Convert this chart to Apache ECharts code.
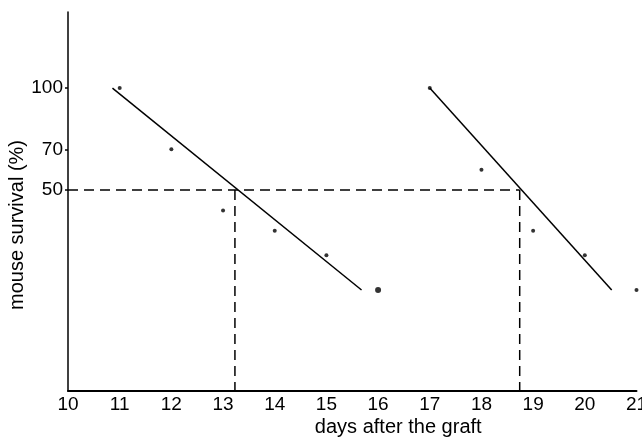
<!DOCTYPE html>
<html>
<head>
<meta charset="utf-8">
<script src="https://cdn.jsdelivr.net/npm/echarts@6/dist/echarts.min.js"></script>
<style>
html,body{margin:0;padding:0;background:#fff;}
#chart{width:642px;height:440px;}
</style>
</head>
<body>
<div id="chart"></div>
<script>
// Data
const days = [10, 11, 12, 13, 14, 15, 16, 17, 18, 19, 20, 21];
const yTickLabels = [50, 70, 100];
const groupADays = [11, 12, 13, 14, 15, 16];
const groupAValues = [100, 70, 40, 30, 18, 1];
const groupBDays = [17, 18, 19, 20, 21];
const groupBValues = [100, 60, 30, 18, 1];
const fitALine = [[10.86, 100], [15.68, 1]];
const fitBLine = [[17.0, 100], [20.52, 1]];
const ld50Days = [13.23, 18.74];
const ld50Value = 50;

const yMin = -48.5, yMax = 137.3;

const ptsA = groupADays.map((d, i) => ({value: [d, groupAValues[i]], symbolSize: d === 16 ? 6 : 4}));
const ptsB = groupBDays.map((d, i) => [d, groupBValues[i]]);

const dashStyle = {color: '#000', width: 1.5, type: [10, 6]};
const font = 'Liberation Sans, Arial, Helvetica, sans-serif';

const chart = echarts.init(document.getElementById('chart'), null, {renderer: 'canvas'});
chart.setOption({
  animation: false,
  backgroundColor: '#fff',
  grid: {left: 68, right: 5.5, top: 12, bottom: 49, containLabel: false, outerBoundsMode: 'none'},
  xAxis: {
    type: 'value', min: 10, max: 21, interval: 1,
    name: 'days after the graft', nameLocation: 'middle', nameGap: 26, nameMoveOverlap: false,
    nameTextStyle: {fontSize: 20, color: '#000', fontFamily: font, verticalAlign: 'top', padding: [0, 0, 0, 92]},
    axisLine: {show: true, onZero: false, lineStyle: {color: '#000', width: 2}},
    axisTick: {show: false},
    splitLine: {show: false},
    axisLabel: {color: '#000', fontSize: 19, fontFamily: font, margin: 4,
      customValues: days, formatter: v => String(v)}
  },
  yAxis: {
    type: 'value', min: yMin, max: yMax,
    name: 'mouse survival (%)', nameLocation: 'middle', nameGap: 41, nameMoveOverlap: false,
    nameTextStyle: {fontSize: 20, color: '#000', fontFamily: font, padding: [0, 47, 0, 0]},
    axisLine: {show: true, onZero: false, lineStyle: {color: '#000', width: 1.5}},
    axisTick: {show: true, length: 3, customValues: yTickLabels, lineStyle: {color: '#000', width: 1.5}},
    splitLine: {show: false},
    axisLabel: {color: '#000', fontSize: 19, fontFamily: font, margin: 5,
      customValues: yTickLabels, formatter: v => String(v)}
  },
  series: [
    {type: 'scatter', data: ptsA, symbol: 'circle', itemStyle: {color: '#000'}},
    {type: 'scatter', data: ptsB, symbol: 'circle', symbolSize: 4, itemStyle: {color: '#000'}},
    {type: 'line', data: fitALine, showSymbol: false, lineStyle: {color: '#000', width: 1.5}},
    {type: 'line', data: fitBLine, showSymbol: false, lineStyle: {color: '#000', width: 1.5}},
    {type: 'line', data: [[10, ld50Value], [ld50Days[1], ld50Value]], showSymbol: false, lineStyle: dashStyle},
    {type: 'line', data: [[ld50Days[0], ld50Value], [ld50Days[0], yMin]], showSymbol: false, lineStyle: dashStyle},
    {type: 'line', data: [[ld50Days[1], ld50Value], [ld50Days[1], yMin]], showSymbol: false, lineStyle: dashStyle}
  ]
});
</script>
</body>
</html>
